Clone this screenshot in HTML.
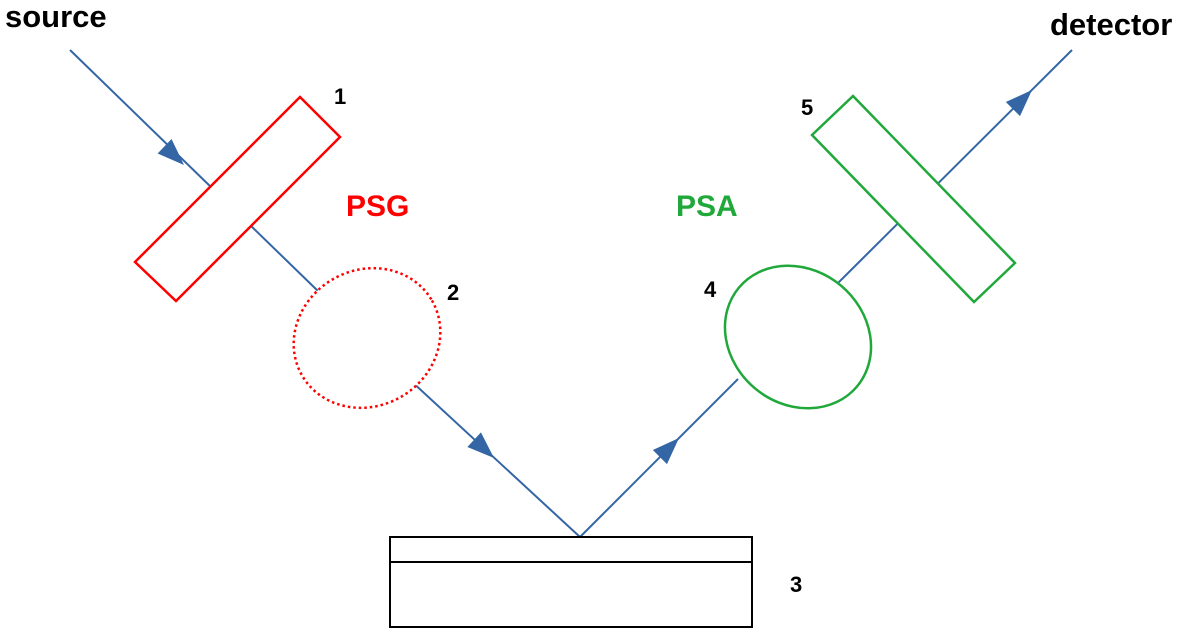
<!DOCTYPE html>
<html><head><meta charset="utf-8"><style>body{margin:0;background:#fff}svg{display:block}</style></head>
<body>
<svg width="1200" height="637" viewBox="0 0 1200 637" xmlns="http://www.w3.org/2000/svg" font-family="Liberation Sans, sans-serif">
<g stroke="#3465a4" stroke-width="2" fill="none">
<line x1="70" y1="50" x2="320" y2="293"/>
<line x1="410" y1="380" x2="580" y2="537"/>
<line x1="580" y1="537" x2="738" y2="379"/>
<line x1="835" y1="286" x2="1072" y2="50"/>
</g>
<g fill="#3465a4">
<polygon points="0,0 -27,-10 -27,10" transform="translate(184,165) rotate(44)"/>
<polygon points="0,0 -27,-10 -27,10" transform="translate(494,458) rotate(42.7)"/>
<polygon points="0,0 -27,-10 -27,10" transform="translate(679,438) rotate(-45)"/>
<polygon points="0,0 -27,-10 -27,10" transform="translate(1032,90) rotate(-45)"/>
</g>
<polygon points="135,262 176,301 340,137 300,97" fill="#fff" stroke="#f00" stroke-width="2.5"/>
<polygon points="812,135 853,96 1015,263 974,302" fill="#fff" stroke="#20a83a" stroke-width="2.5"/>
<ellipse cx="367" cy="338" rx="75" ry="68" transform="rotate(-30 367 338)" fill="#fff" stroke="#f00" stroke-width="2.5" stroke-dasharray="2.5 3"/>
<ellipse cx="798" cy="337" rx="77" ry="67" transform="rotate(40 798 337)" fill="#fff" stroke="#20a83a" stroke-width="2.5"/>
<rect x="390" y="537" width="362" height="25" fill="#fff" stroke="#000" stroke-width="2"/>
<rect x="390" y="562" width="362" height="65" fill="#fff" stroke="#000" stroke-width="2"/>
<g font-weight="bold" font-size="31" fill="#000">
<text x="5" y="27">source</text>
<text x="1050" y="35">detector</text>
</g>
<g font-weight="bold" font-size="22" fill="#000">
<text x="334" y="104">1</text>
<text x="447" y="300">2</text>
<text x="790" y="592">3</text>
<text x="704" y="297">4</text>
<text x="801" y="115">5</text>
</g>
<text x="346" y="216" font-weight="bold" font-size="30" fill="#f00">PSG</text>
<text x="676" y="216" font-weight="bold" font-size="30" fill="#20a83a">PSA</text>
</svg>
</body></html>
